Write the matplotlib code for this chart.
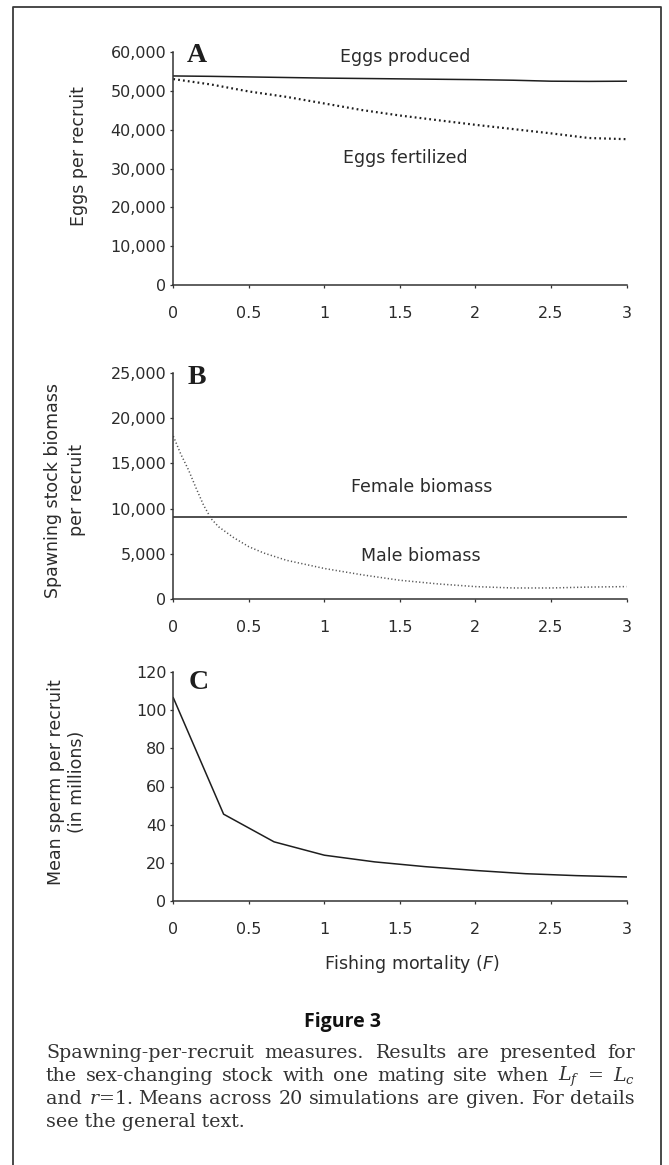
import matplotlib
matplotlib.use('Agg')
import matplotlib.pyplot as plt
from matplotlib.lines import Line2D
from matplotlib.ticker import FuncFormatter

# figure size in pixels (dpi 100)
W, H = 669, 1165

# panel A: eggs per recruit
F_a = [0, 0.25, 0.5, 0.75, 1, 1.25, 1.5, 1.75, 2, 2.25, 2.5, 2.75, 3]
eggs_produced = [53900, 53800, 53650, 53500, 53350, 53250, 53150, 53050,
                 52950, 52800, 52550, 52500, 52550]
eggs_fertilized = [53100, 51700, 49900, 48500, 46800, 45100, 43700, 42500,
                   41300, 40200, 39100, 37900, 37600]

# panel B: spawning stock biomass per recruit
F_b = [0, 0.05, 0.1, 0.15, 0.2, 0.25, 0.3, 0.4, 0.5, 0.6, 0.75, 1,
       1.25, 1.5, 1.75, 2, 2.25, 2.5, 2.75, 3]
female_biomass = [9100, 9100, 9100, 9100, 9100, 9100, 9100, 9100, 9100, 9100,
                  9100, 9100, 9100, 9100, 9100, 9100, 9100, 9100, 9100, 9100]
male_biomass = [18000, 16000, 14300, 12300, 10400, 8900, 8000, 6800, 5800,
                5100, 4300, 3400, 2700, 2100, 1700, 1400, 1250, 1250, 1350, 1400]

# panel C: mean sperm per recruit (millions)
F_c = [0, 0.333, 0.667, 1, 1.333, 1.667, 2, 2.333, 2.667, 3]
sperm = [106.5, 45.5, 31, 24, 20.5, 18, 16, 14.3, 13.3, 12.6]

x_ticks = [0, 0.5, 1, 1.5, 2, 2.5, 3]
x_ticklabels = ['0', '0.5', '1', '1.5', '2', '2.5', '3']
yticks_a = [0, 10000, 20000, 30000, 40000, 50000, 60000]
yticks_b = [0, 5000, 10000, 15000, 20000, 25000]
yticks_c = [0, 20, 40, 60, 80, 100, 120]

caption_lines = [
    'Spawning-per-recruit measures. Results are presented for',
    r'the sex-changing stock with one mating site when $L_f$ = $L_c$',
    r'and $r$=1. Means across 20 simulations are given. For details',
    'see the general text.',
]

plt.rcParams['font.family'] = 'DejaVu Sans'
plt.rcParams['mathtext.fontset'] = 'custom'
plt.rcParams['mathtext.rm'] = 'DejaVu Serif'
plt.rcParams['mathtext.it'] = 'DejaVu Serif:italic'
plt.rcParams['mathtext.sf'] = 'DejaVu Sans:italic'

TXT = '#2b2b2b'
INK = '#1e1e1e'

fig = plt.figure(figsize=(W / 100, H / 100), dpi=100)
fig.patch.set_facecolor('white')


def px(x, y):
    return x / W, 1 - y / H


def make_axes(top, bottom, left=173.3, right=626.5):
    return fig.add_axes([left / W, 1 - bottom / H, (right - left) / W, (bottom - top) / H])


def style(ax, yticks, fmt):
    ax.set_xlim(0, 3)
    ax.set_ylim(yticks[0], yticks[-1])
    for s in ['top', 'right']:
        ax.spines[s].set_visible(False)
    for s in ['left', 'bottom']:
        ax.spines[s].set_linewidth(1.1)
        ax.spines[s].set_color('#333333')
    ax.set_xticks(x_ticks)
    ax.set_xticklabels(x_ticklabels)
    ax.set_yticks(yticks)
    ax.yaxis.set_major_formatter(FuncFormatter(fmt))
    ax.tick_params(axis='both', direction='out', length=2.5, width=0.9,
                   colors='#333333', labelsize=11.5, labelcolor=TXT)
    ax.tick_params(axis='x', pad=12.5)
    ax.tick_params(axis='y', pad=2.5)


comma = lambda v, p: f'{int(v):,}'

# --- A ---
axA = make_axes(52.3, 285)
axA.plot(F_a, eggs_produced, color=INK, lw=1.1)
axA.plot(F_a, eggs_fertilized, color=INK, lw=1.6, linestyle=(0, (0.8, 1.4)))
style(axA, yticks_a, comma)
axA.text(0.052, 0.985, 'A', transform=axA.transAxes, ha='center', va='center',
         family='Liberation Serif', fontweight='bold', fontsize=20, color=INK)
axA.text(0.511, 0.981, 'Eggs produced', transform=axA.transAxes, ha='center',
         va='center', fontsize=12.5, color=TXT)
axA.text(0.513, 0.547, 'Eggs fertilized', transform=axA.transAxes, ha='center',
         va='center', fontsize=12.5, color=TXT)

# --- B ---
axB = make_axes(372.7, 599.3)
axB.plot(F_b, female_biomass, color=INK, lw=1.1)
axB.plot(F_b, male_biomass, color='#555555', lw=1.1, linestyle=(0, (0.8, 1.5)))
style(axB, yticks_b, comma)
axB.text(0.052, 0.977, 'B', transform=axB.transAxes, ha='center', va='center',
         family='Liberation Serif', fontweight='bold', fontsize=20, color=INK)
axB.text(0.547, 0.497, 'Female biomass', transform=axB.transAxes, ha='center',
         va='center', fontsize=12.5, color=TXT)
axB.text(0.547, 0.191, 'Male biomass', transform=axB.transAxes, ha='center',
         va='center', fontsize=12.5, color=TXT)

# --- C ---
axC = make_axes(672, 901)
axC.plot(F_c, sperm, color=INK, lw=1.1)
style(axC, yticks_c, lambda v, p: f'{int(v)}')
axC.text(0.057, 0.952, 'C', transform=axC.transAxes, ha='center', va='center',
         family='Liberation Serif', fontweight='bold', fontsize=20, color=INK)

# axis titles
fig.text(*px(79, 156), 'Eggs per recruit', rotation=90, ha='center', va='center',
         fontsize=12.5, color=TXT)
fig.text(*px(65, 490), 'Spawning stock biomass\nper recruit', rotation=90,
         ha='center', va='center', fontsize=12.5, color=TXT, linespacing=1.45)
fig.text(*px(66.5, 782), 'Mean sperm per recruit\n(in millions)', rotation=90,
         ha='center', va='center', fontsize=12.5, color=TXT, linespacing=1.2)
fig.text(*px(412, 964), r'Fishing mortality ($\mathsf{F}$)', ha='center', va='center',
         fontsize=12.5, color=TXT)

# figure caption
fig.text(*px(343, 1022), 'Figure 3', ha='center', va='center', family='Open Sans',
         fontweight='bold', fontsize=14, color='#111111')

renderer = fig.canvas.get_renderer()
cap_kw = dict(family='DejaVu Serif', fontsize=13.7, color='#333333', va='baseline')
x_left, x_right = 46, 635
y0, dy = 1058, 23
for i, line in enumerate(caption_lines):
    y = y0 + i * dy
    words = line.split(' ')
    if i == len(caption_lines) - 1:
        fig.text(*px(x_left, y), line, **cap_kw)
        continue
    texts = [fig.text(0, 0, w, **cap_kw) for w in words]
    widths = [t.get_window_extent(renderer).width for t in texts]
    gap = (x_right - x_left - sum(widths)) / (len(words) - 1)
    x = x_left
    for t, w in zip(texts, widths):
        t.set_position(px(x, y))
        x += w + gap

# frame around the figure block
fx0, fx1, fy0 = 13, 661, 7
fig.add_artist(Line2D([fx0 / W, fx0 / W, fx1 / W, fx1 / W], [0, 1 - fy0 / H, 1 - fy0 / H, 0],
                      transform=fig.transFigure, color='#3a3a3a', lw=1.3))

fig.savefig('out.png', dpi=100)
